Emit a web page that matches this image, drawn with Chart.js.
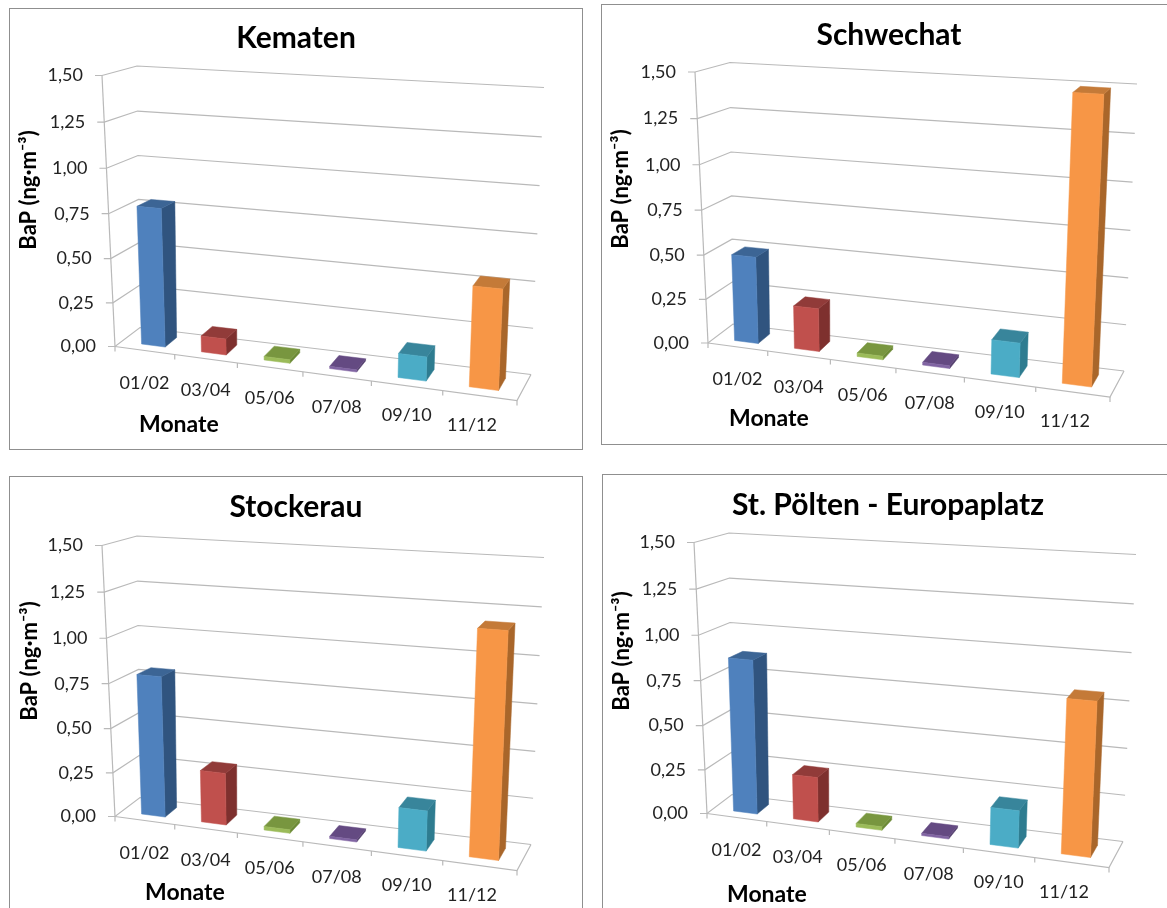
<!DOCTYPE html>
<html>
<head>
<meta charset="utf-8">
<title>BaP Monate</title>
<script src="https://cdn.jsdelivr.net/npm/chart.js@4.4.1/dist/chart.umd.min.js"></script>
<style>
  html, body { margin: 0; background: #fff; overflow: hidden; width: 1167px; height: 908px; }
  .frame { position: absolute; border: 1.5px solid #8f8f8f; box-sizing: border-box; }
  canvas { position: absolute; filter: blur(0.4px); }
</style>
</head>
<body>
<div class="frame" style="left:9px;top:8px;width:574px;height:442px"></div>
<div class="frame" style="left:601px;top:4px;width:580px;height:441px"></div>
<div class="frame" style="left:9px;top:476px;width:574px;height:450px"></div>
<div class="frame" style="left:602px;top:474px;width:580px;height:450px"></div>
<canvas id="c1"></canvas>
<canvas id="c2"></canvas>
<canvas id="c3"></canvas>
<canvas id="c4"></canvas>
<script>
// Daten
const months = ["01/02", "03/04", "05/06", "07/08", "09/10", "11/12"];
const kematen = [0.78, 0.09, 0.02, 0.012, 0.13, 0.53];
const schwechat = [0.49, 0.24, 0.02, 0.015, 0.185, 1.49];
const stockerau = [0.79, 0.29, 0.02, 0.012, 0.215, 1.18];
const stPoelten = [0.865, 0.25, 0.02, 0.012, 0.2, 0.81];

const frontColors = ["#4f81bd", "#c0504d", "#9bbb59", "#8064a2", "#4bacc6", "#f79646"];
const sideColors = ["#30547f", "#7e302e", "#6c8a36", "#54406e", "#2e7c90", "#a9662a"];
const topColors = ["#3c6595", "#913b39", "#78963f", "#644a82", "#38859b", "#c47a38"];

// Wuerfel in Seitenkoordinaten (Kematen), andere Diagramme sind nur verschoben
const floorFL = [115, 346], floorFR = [517, 400], floorBR = [531, 374], floorBL = [140, 327];
const roofFL = [102, 75], roofFR = [531, 100], roofBR = [544, 87], roofBL = [137, 65.5];

const lerp = (a, b, t) => a + (b - a) * t;

function project(u, d, v) {
  const uu = 0.87 * u + 0.13 * u * u;   // Perspektive
  const vv = 0.96 * v + 0.04 * v * v;
  const pick = (k) => {
    const base = lerp(lerp(floorFL[k], floorFR[k], uu), lerp(floorBL[k], floorBR[k], uu), d);
    const roof = lerp(lerp(roofFL[k], roofFR[k], uu), lerp(roofBL[k], roofBR[k], uu), d);
    return lerp(base, roof, vv);
  };
  return [pick(0), pick(1)];
}

function makeChart(id, name, values, p) {
  const canvas = document.getElementById(id);
  canvas.width = p.w;
  canvas.height = p.h;
  canvas.style.left = p.x + "px";
  canvas.style.top = p.y + "px";

  const toCanvas = (pt) => [pt[0] + p.dx - p.x, pt[1] + p.dy - p.y];
  const P = (u, d, v) => toCanvas(project(u, d, v));

  function line(ctx, pts) {
    ctx.beginPath();
    pts.forEach((q, i) => (i ? ctx.lineTo(q[0], q[1]) : ctx.moveTo(q[0], q[1])));
    ctx.stroke();
  }
  function face(ctx, pts, color) {
    ctx.beginPath();
    pts.forEach((q, i) => (i ? ctx.lineTo(q[0], q[1]) : ctx.moveTo(q[0], q[1])));
    ctx.closePath();
    ctx.fillStyle = color;
    ctx.strokeStyle = color;
    ctx.lineWidth = 0.5;
    ctx.fill();
    ctx.stroke();
  }

  const walls = {
    id: "walls",
    beforeDatasetsDraw(chart) {
      const { ctx, chartArea: area, scales } = chart;
      ctx.save();
      ctx.strokeStyle = "#b9b9b9";
      ctx.lineWidth = 1.2;
      ctx.fillStyle = "#222";

      // Hilfslinien und Werte an der y-Achse
      ctx.font = "18px Lato";
      ctx.textAlign = "right";
      ctx.textBaseline = "middle";
      scales.y.ticks.forEach((t) => {
        const v = (area.bottom - scales.y.getPixelForValue(t.value)) / area.height;
        const a = P(0, 0, v), b = P(0, 1, v), c = P(1, 1, v);
        line(ctx, [[a[0] - 7, a[1]], a, b, c]);
        ctx.fillText(t.label, a[0] - 19, a[1]);
      });
      line(ctx, [P(0, 0, 0), P(0, 0, 1)]);

      // Boden
      line(ctx, [P(0, 0, 0), P(1, 0, 0), P(1, 1, 0)]);
      for (let i = 0; i <= months.length; i++) {
        const q = P(i / months.length, 0, 0);
        line(ctx, [q, [q[0], q[1] + 5]]);
      }

      // Monate, schraeg versetzt entlang der Vorderkante
      ctx.textAlign = "center";
      scales.x.ticks.forEach((t, i) => {
        const u = (i + 0.5) / months.length;
        const q = P(u, 0, 0);
        const maxX = P(1, 0, 0)[0] - 45;
        ctx.fillText(t.label, Math.min(q[0], maxX), q[1] + 33 - 4 * u);
      });
      ctx.restore();
    },
    beforeDatasetDraw(chart, args) {
      const { ctx, chartArea: area } = chart;
      const dFront = 0.27, dBack = 0.75;
      const nudge = (u) => u + 0.007 * (1 - u); // Balken sitzen links etwas weiter rechts
      ctx.save();
      args.meta.data.forEach((bar, i) => {
        const u0 = nudge((bar.x - bar.width / 2 - area.left) / area.width);
        const u1 = nudge((bar.x + bar.width / 2 - area.left) / area.width);
        const v = (bar.base - bar.y) / area.height;
        face(ctx, [P(u1, dFront, 0), P(u1, dBack, 0), P(u1, dBack, v), P(u1, dFront, v)], sideColors[i]);
        face(ctx, [P(u0, dFront, v), P(u1, dFront, v), P(u1, dBack, v), P(u0, dBack, v)], topColors[i]);
        face(ctx, [P(u0, dFront, 0), P(u1, dFront, 0), P(u1, dFront, v), P(u0, dFront, v)], frontColors[i]);
      });
      ctx.restore();
      return false; // die flachen Balken nicht zeichnen
    }
  };

  return new Chart(canvas, {
    type: "bar",
    data: {
      labels: months,
      datasets: [{
        label: name,
        data: values,
        backgroundColor: frontColors,
        barPercentage: 0.4,
        categoryPercentage: 1
      }]
    },
    options: {
      responsive: false,
      animation: false,
      layout: { padding: { bottom: p.padB } },
      plugins: {
        legend: { display: false },
        tooltip: { enabled: false },
        title: {
          display: true,
          text: name,
          color: "#000",
          font: { family: "Lato", size: 30, weight: "bold", lineHeight: 1.2 },
          padding: { top: p.titleTop, bottom: p.areaTop - p.titleTop - 36 }
        }
      },
      scales: {
        x: {
          grid: { display: false },
          border: { display: false },
          ticks: { display: false },
          title: {
            display: true,
            text: "Monate",
            align: "start",
            color: "#000",
            padding: 0,
            font: { family: "Lato", size: 23, weight: "bold", lineHeight: 1.2 }
          },
          afterFit(scale) { scale.height = p.xBox; }
        },
        y: {
          min: 0,
          max: 1.5,
          grid: { display: false },
          border: { display: false },
          ticks: {
            display: false,
            stepSize: 0.25,
            callback: (val) => val.toFixed(2).replace(".", ",")
          },
          title: {
            display: true,
            text: "BaP (ng·m⁻³)",
            color: "#000",
            padding: { top: p.yTitle, bottom: 0 },
            font: { family: "Lato", size: 22, weight: "bold", lineHeight: 1.2 }
          },
          afterFit(scale) { scale.width = p.yBox; }
        }
      }
    },
    plugins: [walls]
  });
}

makeChart("c1", "Kematen", kematen, { x: 10, y: 9, w: 572, h: 440, dx: 0, dy: 0.5, yBox: 129, xBox: 123, padB: 11, areaTop: 56, titleTop: 11, yTitle: 6 });
makeChart("c2", "Schwechat", schwechat, { x: 602, y: 5, w: 574, h: 439, dx: 593, dy: -3, yBox: 127, xBox: 119, padB: 12, areaTop: 60, titleTop: 12, yTitle: 6 });
makeChart("c3", "Stockerau", stockerau, { x: 10, y: 477, w: 572, h: 431, dx: 0, dy: 470.5, yBox: 135, xBox: 117, padB: 2, areaTop: 56, titleTop: 12, yTitle: 7 });
makeChart("c4", "St. Pölten - Europaplatz", stPoelten, { x: 603, y: 475, w: 570, h: 433, dx: 592, dy: 467.5, yBox: 124, xBox: 137, padB: 0, areaTop: 56, titleTop: 12, yTitle: 6 });
</script>
</body>
</html>
